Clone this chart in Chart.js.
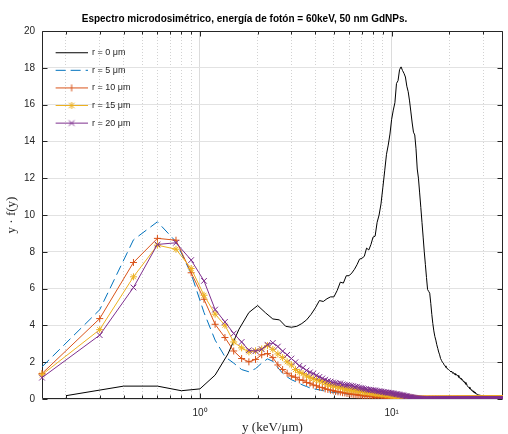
<!DOCTYPE html>
<html>
<head>
<meta charset="utf-8">
<script src="https://cdn.jsdelivr.net/npm/chart.js@4/dist/chart.umd.min.js"></script>
<style>
  html, body { margin: 0; padding: 0; background: #fff; }
  #wrap { width: 508px; height: 434px; }
</style>
</head>
<body>
<div id="wrap"><canvas id="chart"></canvas></div>
<script>
const chartTitle = 'Espectro microdosimétrico, energía de fotón = 60keV, 50 nm GdNPs.';
const seriesLabels = ['r = 0 μm', 'r = 5 μm', 'r = 10 μm', 'r = 15 μm', 'r = 20 μm'];
const seriesColors = ['#000000', '#0072BD', '#D95319', '#EDB120', '#7E2F8E'];

// sampling step of the curves (keV/um)
const xStepR0 = 0.2;
const xStepR = 0.15;

// y*f(y), r = 0 um  (x = 0.2, 0.4, ...)
const yR0 = [
  0.18, 0.7, 0.7, 0.45, 0.55, 1.3, 2.45, 3.8, 4.7, 5.08,
  4.68, 4.35, 4.3, 3.95, 3.9, 3.95, 4.1, 4.3, 4.6, 4.95,
  5.35, 5.3, 5.45, 5.55, 5.55, 5.9, 6.35, 6.3, 6.7, 6.7,
  6.85, 7.05, 7.3, 7.6, 7.65, 7.75, 8.2, 8.1, 8.4, 8.8,
  8.85, 9.6, 10.0, 10.6, 11.5, 12.4, 13.3, 13.8, 14.4, 15.2,
  15.7, 16.1, 17.15, 17.3, 17.9, 18.05, 17.85, 17.7, 17.5, 17.0,
  16.7, 16.2, 15.6, 15.0, 14.5, 14.35, 13.6, 12.5, 12.0, 11.2,
  10.4, 9.6, 8.8, 8.0, 7.3, 6.6, 5.95, 5.85, 5.75, 5.2,
  4.6, 4.1, 3.7, 3.4, 3.2, 2.95, 2.75, 2.55, 2.4, 2.2,
  2.1, 2.0, 1.95, 1.85, 1.8, 1.72, 1.7, 1.62, 1.6, 1.56,
  1.52, 1.47, 1.5, 1.4, 1.44, 1.35, 1.4, 1.3, 1.34, 1.26,
  1.28, 1.18, 1.2, 1.1, 1.14, 1.04, 1.06, 0.96, 0.98, 0.88,
  0.9, 0.8, 0.82, 0.72, 0.72, 0.63, 0.64, 0.55, 0.56, 0.48,
  0.5, 0.42, 0.44, 0.37, 0.38, 0.32, 0.33, 0.27, 0.28, 0.24,
  0.25, 0.22, 0.22, 0.2, 0.2, 0.19, 0.19, 0.17, 0.16, 0.15,
  0.12, 0.1, 0.08, 0.06, 0.05, 0.04, 0.03, 0.02, 0.02, 0.01,
  0.01, 0.01, 0.01, 0, 0, 0, 0, 0, 0, 0,
  0, 0, 0, 0, 0, 0, 0, 0, 0, 0,
  0, 0, 0, 0, 0, 0, 0, 0, 0, 0
];

// y*f(y), r = 5 um  (x = 0.15, 0.30, ...)
const yR5 = [
  1.75, 4.85, 8.65, 9.63, 8.55, 6.8, 4.7, 3.2, 2.3, 1.95,
  1.6, 1.48, 1.65, 1.95, 2.18, 2.05, 1.7, 1.4, 1.2, 1.05,
  0.95, 0.85, 0.75, 0.68, 0.6, 0.56, 0.52, 0.5, 0.46, 0.43,
  0.4, 0.38, 0.36, 0.34, 0.33, 0.31, 0.3, 0.28, 0.27, 0.25,
  0.24, 0.23, 0.22, 0.21, 0.2, 0.19, 0.18, 0.17, 0.16, 0.15,
  0.14, 0.13, 0.12, 0.12, 0.11, 0.1, 0.1, 0.09, 0.08, 0.08,
  0.07, 0.06, 0.06, 0.05, 0.05, 0.04, 0.04, 0.03, 0.03, 0.02,
  0.02, 0.02, 0.01, 0.01, 0.01, 0, 0, 0, 0, 0,
  0, 0, 0, 0, 0, 0, 0, 0, 0, 0,
  0, 0, 0, 0, 0, 0, 0, 0, 0, 0,
  0, 0, 0, 0, 0, 0, 0, 0, 0, 0,
  0, 0, 0, 0, 0, 0, 0, 0, 0, 0,
  0, 0, 0, 0, 0, 0, 0, 0, 0, 0,
  0, 0, 0, 0, 0, 0, 0, 0, 0, 0,
  0, 0, 0, 0, 0, 0, 0, 0, 0, 0,
  0, 0, 0, 0, 0, 0, 0, 0, 0, 0,
  0, 0, 0, 0, 0, 0, 0, 0, 0, 0,
  0, 0, 0, 0, 0, 0, 0, 0, 0, 0,
  0, 0, 0, 0, 0, 0, 0, 0, 0, 0,
  0, 0, 0, 0, 0, 0, 0, 0, 0, 0,
  0, 0, 0, 0, 0, 0, 0, 0, 0, 0,
  0, 0, 0, 0, 0, 0, 0, 0, 0, 0,
  0, 0, 0, 0, 0, 0, 0, 0, 0, 0,
  0, 0, 0, 0, 0, 0, 0, 0, 0, 0,
  0, 0, 0, 0, 0, 0, 0, 0, 0, 0,
  0, 0, 0, 0
];

// y*f(y), r = 10 um
const yR10 = [
  1.38, 4.37, 7.42, 8.73, 8.63, 6.86, 5.42, 4.06, 3.34, 2.61,
  2.2, 2.02, 2.15, 2.4, 2.47, 2.25, 1.85, 1.6, 1.4, 1.25,
  1.18, 1.04, 1.02, 0.9, 0.86, 0.76, 0.72, 0.64, 0.62, 0.55,
  0.52, 0.48, 0.46, 0.41, 0.39, 0.38, 0.34, 0.33, 0.3, 0.29,
  0.27, 0.25, 0.25, 0.22, 0.21, 0.21, 0.18, 0.17, 0.17, 0.15,
  0.15, 0.13, 0.14, 0.12, 0.11, 0.11, 0.1, 0.09, 0.09, 0.08,
  0.07, 0.07, 0.06, 0.05, 0.05, 0.04, 0.04, 0.03, 0.03, 0.02,
  0.02, 0.02, 0.01, 0.01, 0.01, 0.01, 0, 0, 0, 0,
  0, 0, 0, 0, 0, 0, 0, 0, 0, 0,
  0, 0, 0, 0, 0, 0, 0, 0, 0, 0,
  0, 0, 0, 0, 0, 0, 0, 0, 0, 0,
  0, 0, 0, 0, 0, 0, 0, 0, 0, 0,
  0, 0, 0, 0, 0, 0, 0, 0, 0, 0,
  0, 0, 0, 0, 0, 0, 0, 0, 0, 0,
  0, 0, 0, 0, 0, 0, 0, 0, 0, 0,
  0, 0, 0, 0, 0, 0, 0, 0, 0, 0,
  0, 0, 0, 0, 0, 0, 0, 0, 0, 0,
  0, 0, 0, 0, 0, 0, 0, 0, 0, 0,
  0, 0, 0, 0, 0, 0, 0, 0, 0, 0,
  0, 0, 0, 0, 0, 0, 0, 0, 0, 0,
  0, 0, 0, 0, 0, 0, 0, 0, 0, 0,
  0, 0, 0, 0, 0, 0, 0, 0, 0, 0,
  0, 0, 0, 0, 0, 0, 0, 0, 0, 0,
  0, 0, 0, 0, 0, 0, 0, 0, 0, 0,
  0, 0, 0, 0, 0, 0, 0, 0, 0, 0,
  0, 0, 0, 0
];

// y*f(y), r = 15 um
const yR15 = [
  1.32, 3.77, 6.64, 8.36, 8.14, 7.09, 5.64, 4.61, 4.01, 3.1,
  2.78, 2.56, 2.62, 2.72, 2.9, 2.7, 2.45, 2.25, 2.02, 1.85,
  1.6, 1.45, 1.38, 1.25, 1.18, 1.1, 1.06, 0.98, 0.95, 0.88,
  0.78, 0.76, 0.72, 0.7, 0.66, 0.65, 0.6, 0.55, 0.54, 0.5,
  0.5, 0.48, 0.49, 0.46, 0.46, 0.42, 0.41, 0.38, 0.39, 0.37,
  0.36, 0.34, 0.35, 0.32, 0.3, 0.31, 0.29, 0.28, 0.27, 0.27,
  0.26, 0.25, 0.24, 0.22, 0.23, 0.2, 0.19, 0.18, 0.17, 0.16,
  0.15, 0.15, 0.13, 0.13, 0.12, 0.11, 0.11, 0.1, 0.09, 0.08,
  0.07, 0.07, 0.06, 0.05, 0.05, 0.04, 0.04, 0.03, 0.03, 0.02,
  0.02, 0.01, 0.01, 0.01, 0, 0, 0, 0, 0, 0,
  0, 0, 0, 0, 0, 0, 0, 0, 0, 0,
  0, 0, 0, 0, 0, 0, 0, 0, 0, 0,
  0, 0, 0, 0, 0, 0, 0, 0, 0, 0,
  0, 0, 0, 0, 0, 0, 0, 0, 0, 0,
  0, 0, 0, 0, 0, 0, 0, 0, 0, 0,
  0, 0, 0, 0, 0, 0, 0, 0, 0, 0,
  0, 0, 0, 0, 0, 0, 0, 0, 0, 0,
  0, 0, 0, 0, 0, 0, 0, 0, 0, 0,
  0, 0, 0, 0, 0, 0, 0, 0, 0, 0,
  0, 0, 0, 0, 0, 0, 0, 0, 0, 0,
  0, 0, 0, 0, 0, 0, 0, 0, 0, 0,
  0, 0, 0, 0, 0, 0, 0, 0, 0, 0,
  0, 0, 0, 0, 0, 0, 0, 0, 0, 0,
  0, 0, 0, 0, 0, 0, 0, 0, 0, 0,
  0, 0, 0, 0, 0, 0, 0, 0, 0, 0,
  0, 0, 0, 0
];

// y*f(y), r = 20 um
const yR20 = [
  1.16, 3.47, 6.06, 8.4, 8.49, 7.55, 6.42, 4.86, 4.19, 3.56,
  3.1, 2.65, 2.6, 2.7, 2.95, 3.05, 2.85, 2.6, 2.4, 2.2,
  2.0, 1.8, 1.7, 1.55, 1.45, 1.38, 1.28, 1.2, 1.12, 1.05,
  0.98, 0.95, 0.9, 0.88, 0.84, 0.85, 0.8, 0.78, 0.76, 0.74,
  0.72, 0.7, 0.66, 0.67, 0.62, 0.6, 0.58, 0.55, 0.54, 0.51,
  0.5, 0.49, 0.48, 0.47, 0.46, 0.43, 0.42, 0.41, 0.4, 0.38,
  0.38, 0.36, 0.35, 0.34, 0.33, 0.33, 0.31, 0.3, 0.28, 0.27,
  0.26, 0.25, 0.24, 0.22, 0.21, 0.2, 0.19, 0.17, 0.16, 0.15,
  0.13, 0.12, 0.11, 0.1, 0.09, 0.08, 0.07, 0.06, 0.05, 0.04,
  0.03, 0.03, 0.02, 0.02, 0.01, 0.01, 0.01, 0, 0, 0,
  0, 0, 0, 0, 0, 0, 0, 0, 0, 0,
  0, 0, 0, 0, 0, 0, 0, 0, 0, 0,
  0, 0, 0, 0, 0, 0, 0, 0, 0, 0,
  0, 0, 0, 0, 0, 0, 0, 0, 0, 0,
  0, 0, 0, 0, 0, 0, 0, 0, 0, 0,
  0, 0, 0, 0, 0, 0, 0, 0, 0, 0,
  0, 0, 0, 0, 0, 0, 0, 0, 0, 0,
  0, 0, 0, 0, 0, 0, 0, 0, 0, 0,
  0, 0, 0, 0, 0, 0, 0, 0, 0, 0,
  0, 0, 0, 0, 0, 0, 0, 0, 0, 0,
  0, 0, 0, 0, 0, 0, 0, 0, 0, 0,
  0, 0, 0, 0, 0, 0, 0, 0, 0, 0,
  0, 0, 0, 0, 0, 0, 0, 0, 0, 0,
  0, 0, 0, 0, 0, 0, 0, 0, 0, 0,
  0, 0, 0, 0, 0, 0, 0, 0, 0, 0,
  0, 0, 0, 0
];

const xMin = 0.15;
const xMax = 38.1;
const xTickValues = [0.2, 0.3, 0.4, 0.5, 0.6, 0.7, 0.8, 0.9, 1, 2, 3, 4, 5, 6, 7, 8, 9, 10, 20, 30];
const xMajorValues = [1, 10];
const xMajorLabels = ['10⁰', '10¹'];
const yTickValues = [0, 2, 4, 6, 8, 10, 12, 14, 16, 18, 20];

const axisColor = '#262626';
const sansFont = '"Liberation Sans", Arial, Helvetica, sans-serif';
const serifFont = '"Liberation Serif", "Times New Roman", serif';

Chart.defaults.font.family = sansFont;
Chart.defaults.color = axisColor;

const toPoints = (ys, step) => ys.map((v, i) => ({ x: +(step * (i + 1)).toFixed(2), y: v }));

// little line+marker images for the legend
function legendIcon(color, marker, dash) {
  const c = document.createElement('canvas');
  c.width = 37;
  c.height = 9;
  const g = c.getContext('2d');
  g.strokeStyle = color;
  g.lineWidth = 1;
  g.setLineDash(dash || []);
  g.beginPath();
  g.moveTo(5, 4.5);
  g.lineTo(37, 4.5);
  g.stroke();
  g.setLineDash([]);
  const cx = 21, cy = 4.5, r = 3.5, d = 2.8;
  g.beginPath();
  if (marker === 'cross' || marker === 'star') {
    g.moveTo(cx - r, cy); g.lineTo(cx + r, cy);
    g.moveTo(cx, cy - r); g.lineTo(cx, cy + r);
  }
  if (marker === 'crossRot' || marker === 'star') {
    g.moveTo(cx - d, cy - d); g.lineTo(cx + d, cy + d);
    g.moveTo(cx - d, cy + d); g.lineTo(cx + d, cy - d);
  }
  g.stroke();
  return c;
}

const markers = [false, false, 'cross', 'star', 'crossRot'];
const legendIcons = seriesColors.map((col, i) => legendIcon(col, markers[i], i === 1 ? [10, 5] : null));

// box + inward ticks like the original figure
const axisFrame = {
  id: 'axisFrame',
  beforeDatasetsDraw(chart) {
    const { ctx, chartArea: a, scales: { x, y } } = chart;
    const L = a.left + 0.5, R = a.right - 0.5, T = a.top + 0.5, B = a.bottom - 0.5;
    ctx.save();
    ctx.strokeStyle = axisColor;
    ctx.lineWidth = 1;
    ctx.beginPath();
    ctx.rect(L, T, R - L, B - T);
    xTickValues.forEach(v => {
      const px = Math.round(x.getPixelForValue(v)) + 0.5;
      const len = xMajorValues.includes(v) ? 5 : 3;
      ctx.moveTo(px, B); ctx.lineTo(px, B - len);
      ctx.moveTo(px, T); ctx.lineTo(px, T + len);
    });
    yTickValues.forEach(v => {
      const py = Math.round(y.getPixelForValue(v)) + 0.5;
      ctx.moveTo(L, py); ctx.lineTo(L + 5, py);
      ctx.moveTo(R, py); ctx.lineTo(R - 5, py);
    });
    ctx.stroke();
    ctx.restore();
  }
};

const plotTitle = {
  id: 'plotTitle',
  afterDraw(chart) {
    const ctx = chart.ctx;
    ctx.save();
    ctx.font = 'bold 10px ' + sansFont;
    ctx.fillStyle = '#000';
    ctx.textAlign = 'center';
    ctx.textBaseline = 'alphabetic';
    ctx.fillText(chartTitle, 244.5, 22);
    ctx.restore();
  }
};

const ySeries = [yR0, yR5, yR10, yR15, yR20];
const steps = [xStepR0, xStepR, xStepR, xStepR, xStepR];

const datasets = ySeries.map((ys, i) => ({
  label: seriesLabels[i],
  data: toPoints(ys, steps[i]),
  borderColor: seriesColors[i],
  backgroundColor: seriesColors[i],
  borderWidth: 1,
  borderDash: i === 1 ? [10, 5] : [],
  pointStyle: markers[i] || 'circle',
  pointRadius: markers[i] ? (markers[i] === 'crossRot' ? 4 : 3.5) : 0,
  pointBorderWidth: 1,
  pointBorderColor: seriesColors[i],
  tension: 0,
  order: 5 - i,
  clip: { left: 6, top: 6, right: 0, bottom: 0 }
}));

new Chart(document.getElementById('chart'), {
  type: 'line',
  data: { datasets },
  plugins: [axisFrame, plotTitle],
  options: {
    responsive: true,
    maintainAspectRatio: false,
    animation: false,
    events: [],
    layout: { padding: { top: 31, right: 3, left: 0, bottom: 0 } },
    scales: {
      x: {
        type: 'logarithmic',
        min: xMin,
        max: xMax,
        afterBuildTicks: (s) => { s.ticks = xTickValues.map(v => ({ value: v, major: xMajorValues.includes(v) })); },
        afterFit: (s) => { s.height = 35; },
        ticks: {
          autoSkip: false,
          maxRotation: 0,
          padding: 8,
          font: { size: 10 },
          color: axisColor,
          callback: (v) => {
            const k = xMajorValues.indexOf(v);
            return k >= 0 ? xMajorLabels[k] : '';
          }
        },
        grid: {
          drawTicks: false,
          color: (c) => (c.tick && xMajorValues.includes(c.tick.value)) ? '#dcdcdc' : '#d2d2d2',
          lineWidth: 1
        },
        border: {
          display: false,
          dash: (c) => (c.tick && !xMajorValues.includes(c.tick.value)) ? [1, 2] : []
        },
        title: {
          display: true,
          text: 'y (keV/μm)',
          font: { family: serifFont, size: 13, lineHeight: 1 },
          color: axisColor,
          padding: { top: 0, bottom: 0 }
        }
      },
      y: {
        min: 0,
        max: 20,
        afterFit: (s) => { s.width = 42; },
        ticks: { stepSize: 2, padding: 7, font: { size: 10 }, color: axisColor },
        grid: { drawTicks: false, color: '#e2e2e2', lineWidth: 1 },
        border: { display: false },
        title: {
          display: true,
          text: 'y · f(y)',
          font: { family: serifFont, size: 13, lineHeight: 1 },
          color: axisColor,
          padding: { top: 5, bottom: 0 }
        }
      }
    },
    plugins: {
      title: { display: false },
      tooltip: { enabled: false },
      legend: {
        display: true,
        position: 'chartArea',
        align: 'start',
        // the legend box starts at the canvas top, this spacer moves it into the plot
        title: { display: true, text: '', font: { size: 1, lineHeight: 1 }, padding: { top: 38.6, bottom: 0 } },
        labels: {
          usePointStyle: true,
          pointStyleWidth: 37,
          padding: 8.6,
          font: { size: 9 },
          color: axisColor,
          generateLabels: (chart) => chart.data.datasets.map((ds, i) => ({
            text: ds.label,
            fillStyle: 'transparent',
            strokeStyle: 'transparent',
            lineWidth: 0,
            pointStyle: legendIcons[i],
            hidden: false,
            datasetIndex: i,
            fontColor: axisColor
          }))
        }
      }
    }
  }
});
</script>
</body>
</html>
